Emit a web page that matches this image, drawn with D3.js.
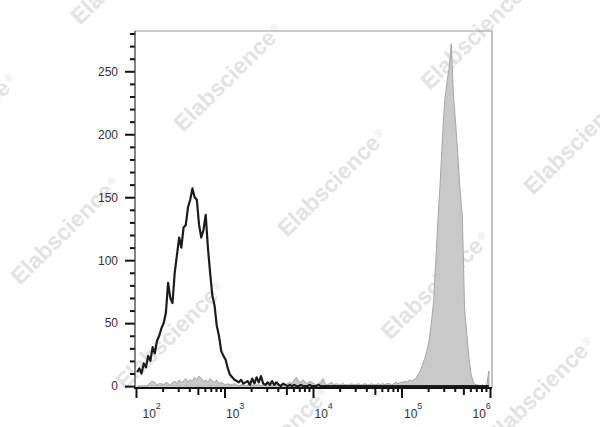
<!DOCTYPE html>
<html><head><meta charset="utf-8">
<script src="https://cdn.jsdelivr.net/npm/d3@7"></script>
<style>body{margin:0;background:#fff} svg{display:block}</style>
</head><body><svg id="c" width="600" height="427"></svg>
<script>
// ---- data ----
const xMajorTicks = [1e2, 1e3, 1e4, 1e5, 1e6];
const xTickExponents = ["2", "3", "4", "5", "6"];
const yMajorTicks = [0, 50, 100, 150, 200, 250];
const yMinorTicks = [10,20,30,40,60,70,80,90,110,120,130,140,160,170,180,190,210,220,230,240,260,270,280];
const binStartLog = 2.0;
const binWidthLog = 0.025;
const isotypeCounts = [
 11,14,10,18,15,24,20,31,26,36,
 40,46,50,58,82,70,66,90,104,118,
 110,126,128,142,148,157,150,148,128,118,
 124,136,110,90,72,64,48,40,28,24,
 21,14,9,7,5,4,3,5,2,3,
 4,1,6,2,7,3,8,2,1,3,
 1,4,1,3,1,0,2,1,0,1,
 0,1,0,0,1,0,0,0,1,0,
 0,0,1,0,0,0,0,0,0,0,
 0,0,0,0,0,0,0,0,0,0,
 0,0,0,0,0,0,0,0,0,0,
 0,0,0,0,0,0,0,0,0,0,
 0,0,0,0,0,0,0,0,0,0,
 0,0,0,0,0,0,0,0,0,0,
 0,0,0,0,0,0,0,0,0,0,
 0,0,0,0,0,0,0,0,0,0
];
const stainedCounts = [
 0,0,0,0,0,1,3,4,3,1,
 2,2,1,3,2,1,3,4,2,5,
 3,4,6,3,5,4,7,5,8,6,
 4,5,3,6,4,3,5,2,3,2,
 1,2,1,1,2,1,0,1,1,0,
 1,2,1,0,1,1,0,1,2,1,
 1,0,1,1,2,1,2,1,2,3,
 2,5,7,4,3,5,3,2,4,3,
 2,1,2,3,6,2,1,2,3,1,
 2,1,1,2,1,1,1,2,1,1,
 2,1,1,2,1,1,2,1,1,2,
 1,2,1,2,2,1,2,3,2,3,
 3,4,3,5,4,5,6,9,12,17,
 22,28,37,50,67,99,133,162,197,226,
 241,252,272,230,208,183,155,135,62,42,
 22,9,3,1,1,0,1,0,1,12
];
const watermarkText = "Elabscience";
const watermarkCenters = [
 [125,-30],[228,77],[332,182],[435,285],[540,390],
 [-38,127],[65,230],[170,335],[275,440],
 [372,-68],[475,35],[578,140]
];

(function draw() {
const svg = d3.select("#c");
const pl = 136, pr = 490, pt = 31, pb = 388;
const font = "'Liberation Sans', Arial, sans-serif";

const x = d3.scaleLog().domain([1e2, 1e6]).range([pl, pr]);
const y = d3.scaleLinear().domain([-1.5, 282]).range([pb, pt]);

// watermarks (behind)
const wm = svg.append("g");
watermarkCenters.forEach(([cx, cy]) => {
  const t = wm.append("text")
    .attr("transform", `translate(${cx},${cy}) rotate(-44.5)`)
    .attr("text-anchor", "middle")
    .attr("dy", "0.35em")
    .style("font-family", font).style("font-weight", "bold").style("font-size", "23px")
    .style("fill", "#e3e3e3");
  t.append("tspan").text(watermarkText);
  t.append("tspan").attr("dy", "-0.7em").attr("dx", "2").style("font-size", "10px").style("font-weight","normal").text("®");
});

// frame (top & right)
svg.append("path")
  .attr("d", `M${pl-1},${pt}H${pr+2}V${pb}`)
  .attr("fill", "none").attr("stroke", "#999").attr("stroke-width", 1.2);

// data
const bins = isotypeCounts.map((v, i) => Math.pow(10, binStartLog + (i + 0.5) * binWidthLog));
svg.append("clipPath").attr("id", "pa").append("rect")
  .attr("x", pl - 1).attr("y", pt).attr("width", pr - pl + 3).attr("height", pb - pt);
const plot = svg.append("g").attr("clip-path", "url(#pa)");

const area = d3.area().x((d, i) => x(bins[i])).y0(y(0)).y1(d => y(d));
plot.append("path").datum(stainedCounts)
  .attr("d", area).attr("fill", "#c9c9c9").attr("stroke", "#a6a6a6").attr("stroke-width", 1);

const line = d3.line().x((d, i) => x(bins[i])).y(d => y(d));
plot.append("path").datum(isotypeCounts)
  .attr("d", line).attr("fill", "none").attr("stroke", "#1c1c1c").attr("stroke-width", 2.2).attr("stroke-linejoin", "round");

// y axis
const yAxisG = svg.append("g").attr("transform", `translate(${pl - 1},0)`);
yAxisG.call(d3.axisLeft(y).tickValues(yMajorTicks).tickSize(10).tickPadding(7));
yAxisG.append("g").call(d3.axisLeft(y).tickValues(yMinorTicks).tickSize(5).tickFormat(""));
yAxisG.selectAll(".domain").remove();
yAxisG.selectAll(".tick line").attr("stroke", "#111").attr("stroke-width", 2);
yAxisG.selectAll(".tick text").style("font-family", font).style("font-size", "12px").style("fill", "#333");
yAxisG.append("line").attr("x1", 0).attr("x2", 0).attr("y1", pt).attr("y2", pb)
  .attr("stroke", "#333").attr("stroke-width", 1.2);

// x axis
const xAxisG = svg.append("g").attr("transform", `translate(0,${pb})`);
const xMid = [], xMinor = [];
xMajorTicks.slice(0, -1).forEach(d => {
  [2,3,4,6,7,8,9].forEach(m => xMinor.push(m * d));
  xMid.push(5 * d);
});
xAxisG.append("g").call(d3.axisBottom(x).tickValues(xMinor).tickSize(4).tickFormat(""));
xAxisG.append("g").call(d3.axisBottom(x).tickValues(xMid).tickSize(7).tickFormat(""));
const majorG = xAxisG.append("g").call(d3.axisBottom(x).tickValues(xMajorTicks).tickSize(10).tickFormat(""));
xAxisG.selectAll(".domain").remove();
xAxisG.selectAll(".tick line").attr("stroke", "#111").attr("stroke-width", 2);
xAxisG.append("line").attr("x1", pl - 2).attr("x2", pr + 2).attr("y1", 0).attr("y2", 0)
  .attr("stroke", "#111").attr("stroke-width", 2);

const labelDx = [6, 1, 1, 2, -18];
majorG.selectAll(".tick").each(function(d, i) {
  const t = d3.select(this).append("text")
    .attr("x", labelDx[i]).attr("y", 30)
    .attr("text-anchor", "start")
    .style("font-family", font).style("font-size", "12px").style("fill", "#333");
  t.append("tspan").text("10");
  t.append("tspan").attr("dy", "-9").style("font-size", "9px").text(xTickExponents[i]);
});
})();
</script></body></html>
